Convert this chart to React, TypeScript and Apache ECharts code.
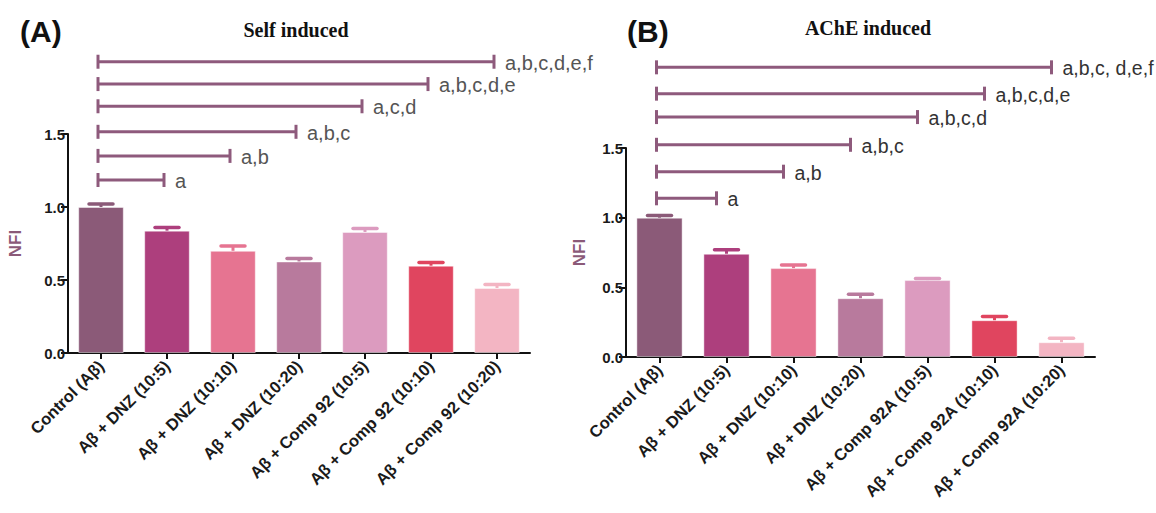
import React, { useEffect, useRef } from "react";
import * as echarts from "echarts";

const categoriesA = [
  "Control (Aβ)",
  "Aβ + DNZ (10:5)",
  "Aβ + DNZ (10:10)",
  "Aβ + DNZ (10:20)",
  "Aβ + Comp 92 (10:5)",
  "Aβ + Comp 92 (10:10)",
  "Aβ + Comp 92 (10:20)",
];
const valuesA = [1.0, 0.838, 0.7, 0.627, 0.829, 0.598, 0.445];
const errTopA = [1.02, 0.86, 0.733, 0.648, 0.853, 0.62, 0.47];

const categoriesB = [
  "Control (Aβ)",
  "Aβ + DNZ (10:5)",
  "Aβ + DNZ (10:10)",
  "Aβ + DNZ (10:20)",
  "Aβ + Comp 92A (10:5)",
  "Aβ + Comp 92A (10:10)",
  "Aβ + Comp 92A (10:20)",
];
const valuesB = [1.0, 0.741, 0.638, 0.422, 0.552, 0.264, 0.106];
const errTopB = [1.015, 0.77, 0.66, 0.451, 0.564, 0.29, 0.134];

const barColors = ["#8b5a78", "#ad3f7d", "#e67491", "#b87a9d", "#dc9bbf", "#e0455f", "#f3b5c3"];

const yMin = 0;
const yMax = 1.5;
const yInterval = 0.5;

const bracketLabelsA = ["a", "a,b", "a,b,c", "a,c,d", "a,b,c,d,e", "a,b,c,d,e,f"];
const bracketEndA = [1, 2, 3, 4, 5, 6];
const bracketLevelsA = [1.185, 1.35, 1.515, 1.69, 1.842, 1.995];

const bracketLabelsB = ["a", "a,b", "a,b,c", "a,b,c,d", "a,b,c,d,e", "a,b,c, d,e,f"];
const bracketEndB = [1, 2, 3, 4, 5, 6];
const bracketLevelsB = [1.139, 1.33, 1.523, 1.722, 1.89, 2.079];

const titleA = "Self induced";
const titleB = "AChE induced";
const yName = "NFI";

const SANS = "'Liberation Sans', Arial, sans-serif";
const SERIF = "'Liberation Serif', 'Times New Roman', serif";
const bracketColor = "#8e5a7c";

function makeXAxis(gridIndex: number, cats: string[]) {
  return {
    type: "category",
    gridIndex,
    data: cats,
    axisLine: { show: true, lineStyle: { color: "#111", width: 2 } },
    axisTick: { show: true, alignWithLabel: true, length: 6, lineStyle: { color: "#111", width: 2 } },
    axisLabel: {
      interval: 0,
      rotate: 45,
      margin: 10,
      fontFamily: SANS,
      fontWeight: "bold",
      fontSize: 16.5,
      color: "#1a1a1a",
    },
  };
}

function makeYAxis(gridIndex: number, nameGap: number) {
  return {
    type: "value",
    gridIndex,
    min: yMin,
    max: yMax,
    interval: yInterval,
    name: yName,
    nameLocation: "middle",
    nameGap,
    nameRotate: 90,
    nameTextStyle: { color: "#8b5a78", fontFamily: SANS, fontWeight: "bold", fontSize: 17 },
    axisLine: { show: true, lineStyle: { color: "#111", width: 2 } },
    axisTick: { show: true, length: 7, lineStyle: { color: "#111", width: 2 } },
    splitLine: { show: false },
    axisLabel: {
      margin: 3,
      fontFamily: SANS,
      fontWeight: "bold",
      fontSize: 15,
      color: "#1a1a1a",
      formatter: (v: number) => v.toFixed(1),
    },
  };
}

function barSeries(idx: number, values: number[]) {
  return {
    type: "bar",
    xAxisIndex: idx,
    yAxisIndex: idx,
    barWidth: "69%",
    z: 2,
    data: values.map((v, i) => ({
      value: v,
      itemStyle: { color: barColors[i], borderColor: "rgba(255,255,255,0.45)", borderWidth: 1 },
    })),
  };
}

function errorSeries(idx: number, values: number[], tops: number[]) {
  return {
    type: "custom",
    xAxisIndex: idx,
    yAxisIndex: idx,
    z: 3,
    clip: false,
    data: values.map((v, i) => [i, v, tops[i]]),
    renderItem: (params: any, api: any) => {
      const i = api.value(0);
      const base = api.coord([i, api.value(1)]);
      const top = api.coord([i, api.value(2)]);
      const color = barColors[params.dataIndex];
      const half = 12;
      return {
        type: "group",
        children: [
          {
            type: "line",
            shape: { x1: base[0], y1: base[1], x2: top[0], y2: top[1] },
            style: { stroke: color, lineWidth: 3 },
          },
          {
            type: "line",
            shape: { x1: top[0] - half, y1: top[1], x2: top[0] + half, y2: top[1] },
            style: { stroke: color, lineWidth: 3.5, lineCap: "round" },
          },
        ],
      };
    },
  };
}

function bracketSeries(
  idx: number,
  ends: number[],
  levels: number[],
  labels: string[],
  textColor: string,
  endShift: number,
  fontSize: number
) {
  return {
    type: "custom",
    xAxisIndex: idx,
    yAxisIndex: idx,
    z: 4,
    clip: false,
    data: levels.map((lv, i) => [0, lv, ends[i]]),
    renderItem: (params: any, api: any) => {
      const start = api.coord([api.value(0), api.value(1)]);
      const end = api.coord([api.value(2), api.value(1)]);
      const x1 = start[0] - 3;
      const x2 = end[0] + endShift;
      const y = start[1];
      const h = 7;
      return {
        type: "group",
        children: [
          { type: "line", shape: { x1, y1: y, x2, y2: y }, style: { stroke: bracketColor, lineWidth: 3 } },
          { type: "line", shape: { x1, y1: y - h, x2: x1, y2: y + h }, style: { stroke: bracketColor, lineWidth: 3 } },
          { type: "line", shape: { x1: x2, y1: y - h, x2, y2: y + h }, style: { stroke: bracketColor, lineWidth: 3 } },
          {
            type: "text",
            x: x2 + 11,
            y: y + 1,
            style: {
              text: labels[params.dataIndex],
              fill: textColor,
              fontFamily: SANS,
              fontSize,
              align: "left",
              verticalAlign: "middle",
            },
          },
        ],
      };
    },
  };
}

export default function App() {
  const ref = useRef<HTMLDivElement>(null);
  useEffect(() => {
    document.body.style.margin = "0";
    if (!ref.current) return;
    const chart = echarts.init(ref.current, undefined, { renderer: "svg" });
    chart.setOption({
      animation: false,
      backgroundColor: "#ffffff",
      grid: [
        { left: 68, top: 134, width: 462, height: 219 },
        { left: 626, top: 148, width: 469, height: 209 },
      ],
      xAxis: [makeXAxis(0, categoriesA), makeXAxis(1, categoriesB)],
      yAxis: [makeYAxis(0, 44), makeYAxis(1, 38)],
      graphic: [
        { type: "text", left: 20, top: 16, style: { text: "(A)", fontFamily: SANS, fontWeight: "bold", fontSize: 30, fill: "#111" } },
        { type: "text", left: 627, top: 16, style: { text: "(B)", fontFamily: SANS, fontWeight: "bold", fontSize: 30, fill: "#111" } },
        {
          type: "text",
          x: 296,
          y: 30,
          style: { text: titleA, fontFamily: SERIF, fontWeight: "bold", fontSize: 20, fill: "#111", align: "center", verticalAlign: "middle" },
        },
        {
          type: "text",
          x: 868,
          y: 28,
          style: { text: titleB, fontFamily: SERIF, fontWeight: "bold", fontSize: 20, fill: "#111", align: "center", verticalAlign: "middle" },
        },
      ],
      series: [
        barSeries(0, valuesA),
        errorSeries(0, valuesA, errTopA),
        bracketSeries(0, bracketEndA, bracketLevelsA, bracketLabelsA, "#555555", -3, 20),
        barSeries(1, valuesB),
        errorSeries(1, valuesB, errTopB),
        bracketSeries(1, bracketEndB, bracketLevelsB, bracketLabelsB, "#333333", -10, 19.5),
      ],
    });
    return () => chart.dispose();
  }, []);
  return <div ref={ref} style={{ width: 1156, height: 513 }} />;
}
